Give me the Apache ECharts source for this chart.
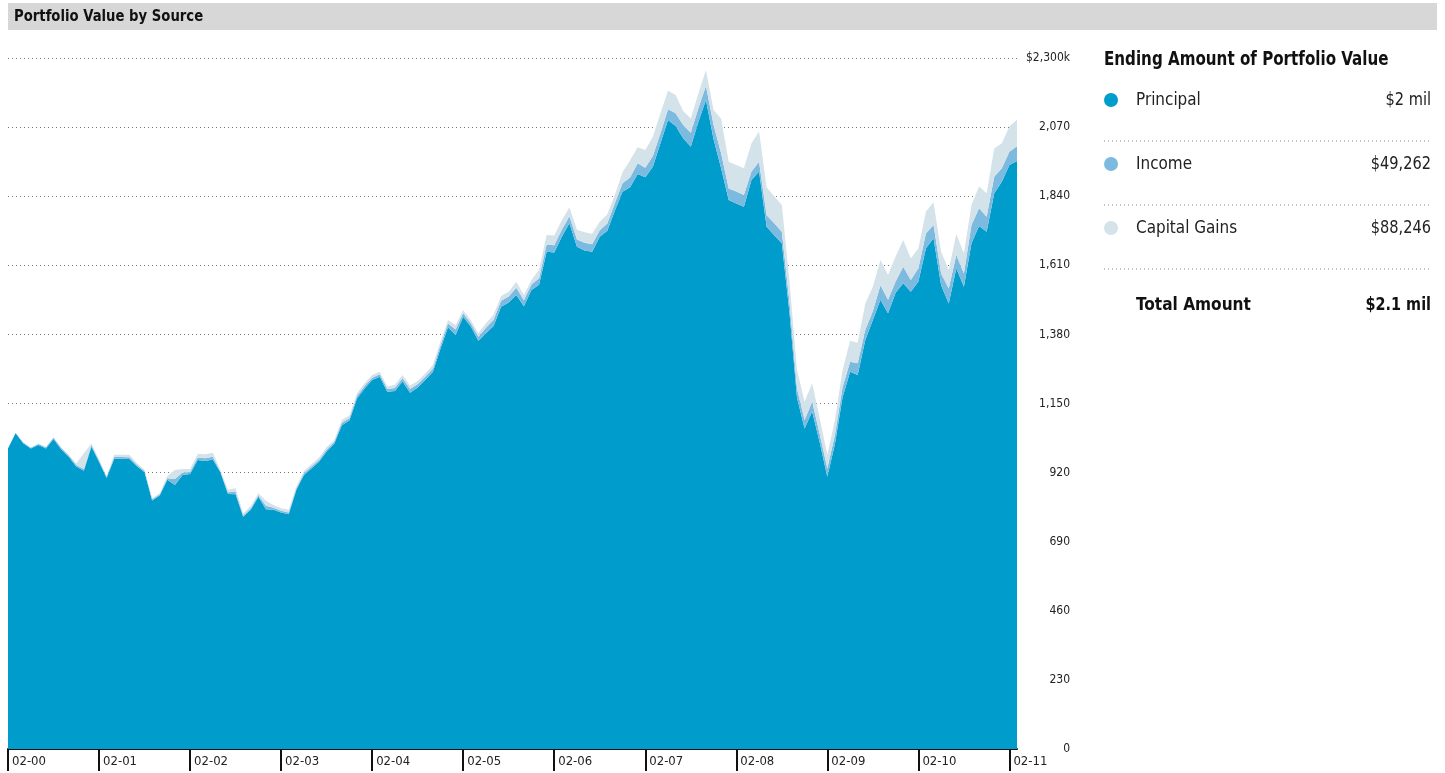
<!DOCTYPE html>
<html>
<head>
<meta charset="utf-8">
<script src="https://cdn.jsdelivr.net/npm/echarts@6/dist/echarts.min.js"></script>
<style>
  html, body { margin: 0; padding: 0; background: #ffffff; }
  #chart { width: 1445px; height: 773px; }
</style>
</head>
<body>
<div id="chart"></div>
<script>
// Portfolio value by source, monthly, in thousands of dollars (Feb 2000 – Mar 2011)
const startYear = 2000;
const startMonth = 2;
const monthCount = 134;

const principal = [
  1000, 1051, 1018, 1000, 1012, 1000, 1032, 998, 973, 940, 926, 1006,
  956, 902, 966, 966, 965, 941, 921, 827, 844, 896, 879, 912,
  915, 962, 959, 964, 921, 849, 848, 773, 796, 840, 798, 796,
  787, 781, 862, 912, 934, 956, 990, 1016, 1078, 1093, 1167, 1200,
  1228, 1239, 1189, 1192, 1223, 1186, 1203, 1228, 1255, 1332, 1404, 1378,
  1439, 1406, 1359, 1384, 1408, 1472, 1486, 1511, 1474, 1528, 1545, 1655,
  1653, 1705, 1750, 1672, 1659, 1655, 1705, 1725, 1792, 1855, 1870, 1914,
  1903, 1938, 2016, 2094, 2074, 2033, 2005, 2088, 2160, 2030, 1933, 1827,
  1816, 1805, 1894, 1922, 1738, 1710, 1683, 1455, 1170, 1067, 1123, 1020,
  906, 1015, 1170, 1256, 1245, 1361, 1428, 1495, 1450, 1519, 1550, 1522,
  1556, 1667, 1700, 1544, 1483, 1600, 1539, 1683, 1741, 1722, 1850, 1888,
  1944, 1957
];

const income = [
  1, 2, 2, 3, 3, 4, 4, 5, 5, 5, 6, 6,
  4, 4, 6, 6, 6, 5, 4, 4, 4, 5, 20, 8,
  7, 8, 9, 9, 3, 6, 8, 4, 5, 4, 12, 7,
  6, 6, 5, 6, 6, 6, 7, 6, 8, 8, 8, 8,
  8, 8, 9, 10, 11, 12, 11, 11, 11, 12, 12, 18,
  11, 11, 13, 18, 20, 20, 20, 24, 20, 18, 22, 24,
  24, 23, 23, 24, 26, 25, 22, 24, 25, 28, 32, 36,
  32, 36, 33, 35, 42, 44, 46, 45, 47, 48, 50, 39,
  40, 39, 28, 33, 39, 40, 39, 35, 30, 28, 33, 28,
  28, 30, 33, 33, 39, 34, 30, 49, 45, 37, 55, 39,
  44, 49, 44, 39, 50, 44, 44, 61, 59, 50, 55, 45,
  44, 49.262
];

const capitalGains = [
  0, 0, 0, 0, 0, 0, 0, 0, 1, 5, 52, 5,
  4, 3, 7, 7, 8, 5, 4, 3, 3, 8, 30, 12,
  10, 12, 13, 13, 5, 9, 12, 7, 8, 7, 16, 9,
  8, 9, 6, 7, 8, 8, 8, 6, 9, 9, 9, 9,
  9, 9, 9, 10, 11, 12, 11, 11, 12, 12, 12, 15,
  11, 11, 12, 15, 17, 16, 16, 20, 17, 15, 28, 32,
  32, 32, 30, 32, 35, 35, 28, 31, 28, 37, 58, 53,
  59, 64, 67, 62, 61, 47, 48, 49, 53, 49, 115, 89,
  88, 89, 94, 100, 92, 90, 89, 70, 62, 61, 61, 52,
  45, 50, 57, 70, 68, 88, 81, 84, 83, 83, 89, 72,
  67, 73, 76, 72, 61, 70, 67, 67, 72, 78, 94, 83,
  84, 88.246
];

// y-axis scale (thousands)
const yMin = 0;
const yMax = 2300;
const yStep = 230;

const seriesNames = ['Principal', 'Income', 'Capital Gains'];
const seriesColors = ['#009dcc', '#7dbadf', '#d4e2ea'];

// month labels "MM-YY"
const months = [];
for (let i = 0; i < monthCount; i++) {
  const m = (startMonth - 1 + i) % 12 + 1;
  const y = startYear + Math.floor((startMonth - 1 + i) / 12);
  months.push(String(m).padStart(2, '0') + '-' + String(y % 100).padStart(2, '0'));
}

const FONT = "'Liberation Sans Narrow', 'DejaVu Sans Condensed', 'Roboto', sans-serif";
const fmtComma = v => Math.round(v).toLocaleString('en-US');

// ending amounts for the summary panel
const last = arr => arr[arr.length - 1];
const endP = last(principal), endI = last(income), endC = last(capitalGains);
const endTotal = endP + endI + endC;
const summaryValues = [
  '$' + (endP / 1000).toFixed(0) + ' mil',
  '$' + fmtComma(endI * 1000),
  '$' + fmtComma(endC * 1000)
];
const totalText = '$' + (endTotal / 1000).toFixed(1) + ' mil';

const isYearTick = i => i % 12 === 0;

// narrowed text element anchored at (x, y)
function label(x, y, text, font, align, fill, squeeze) {
  return {
    type: 'text', x, y, scaleX: squeeze, originX: 0, originY: 0,
    style: { text, font: font + ' ' + FONT, fill, align, verticalAlign: 'middle' }
  };
}

const graphics = [
  { type: 'rect', shape: { x: 8, y: 3, width: 1429, height: 27 }, style: { fill: '#d7d7d7' } },
  label(14, 17, 'Portfolio Value by Source', 'bold 15px', 'left', '#111', 0.98),
  label(1104, 60, 'Ending Amount of Portfolio Value', 'bold 19px', 'left', '#111', 0.885)
];
const rowY = [100, 164, 228];
seriesNames.forEach((name, k) => {
  graphics.push({ type: 'circle', shape: { cx: 1111, cy: rowY[k], r: 7 }, style: { fill: seriesColors[k] } });
  graphics.push(label(1136, rowY[k], name, '18px', 'left', '#222', 0.94));
  graphics.push(label(1431, rowY[k], summaryValues[k], '18px', 'right', '#222', 0.9));
  graphics.push({ type: 'line', shape: { x1: 1104, y1: rowY[k] + 41, x2: 1431, y2: rowY[k] + 41 }, style: { stroke: '#888', lineWidth: 1, lineDash: [1, 3] } });
});
graphics.push(label(1136, 305, 'Total Amount', 'bold 18px', 'left', '#111', 0.95));
graphics.push(label(1431, 305, totalText, 'bold 18px', 'right', '#111', 0.89));

const seriesData = [principal, income, capitalGains];

const option = {
  animation: false,
  grid: { left: 8, right: 428, top: 58, bottom: 24 },
  xAxis: {
    type: 'category',
    data: months,
    boundaryGap: false,
    axisLine: { lineStyle: { color: '#111', width: 2 } },
    axisTick: { show: true, interval: isYearTick, length: 22, lineStyle: { color: '#111', width: 2 } },
    axisLabel: {
      interval: isYearTick, align: 'left', padding: [0, 0, 0, 4], margin: 6,
      fontSize: 13, color: '#222', fontFamily: FONT
    },
    splitLine: { show: false }
  },
  yAxis: {
    type: 'value',
    position: 'right',
    min: yMin, max: yMax, interval: yStep,
    axisLine: { show: false },
    axisTick: { show: false },
    axisLabel: {
      align: 'right', margin: 53, fontSize: 12, color: '#222', fontFamily: FONT,
      formatter: v => v === yMax ? '$' + fmtComma(v) + 'k' : fmtComma(v)
    },
    splitLine: { lineStyle: { color: '#777', width: 1, type: [1, 3] } }
  },
  series: seriesNames.map((name, k) => ({
    name,
    type: 'line',
    stack: 'portfolio',
    data: seriesData[k],
    symbol: 'none',
    showSymbol: false,
    lineStyle: { width: 0, opacity: 0 },
    areaStyle: { color: seriesColors[k], opacity: 1 },
    itemStyle: { color: seriesColors[k] },
    z: 2
  })),
  graphic: graphics
};

const chart = echarts.init(document.getElementById('chart'), null, { renderer: 'canvas' });
chart.setOption(option);
</script>
</body>
</html>
